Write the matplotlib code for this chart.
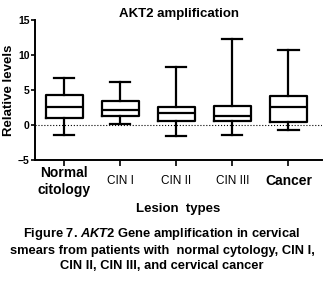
import numpy as np
import matplotlib
matplotlib.use("Agg")
import matplotlib.pyplot as plt

plt.rcParams['font.family'] = 'Liberation Sans'
plt.rcParams['mathtext.fontset'] = 'custom'
plt.rcParams['mathtext.it'] = 'Liberation Sans:italic:bold'
plt.rcParams['mathtext.rm'] = 'Liberation Sans:bold'

# data
groups = ["Normal\ncitology", "CIN I", "CIN II", "CIN III", "Cancer"]
whislo = [-1.5, 0.15, -1.6, -1.5, -0.7]
q1 = [1.0, 1.3, 0.5, 0.6, 0.4]
med = [2.6, 2.2, 1.7, 1.3, 2.6]
q3 = [4.3, 3.4, 2.6, 2.7, 4.1]
whishi = [6.7, 6.1, 8.3, 12.3, 10.7]

stats = []
for i in range(len(groups)):
    stats.append(dict(whislo=whislo[i], q1=q1[i], med=med[i], q3=q3[i],
                      whishi=whishi[i], fliers=[]))

fig = plt.figure(figsize=(3.24, 2.81), dpi=100)
ax = fig.add_axes([0.108, 0.431, 0.886, 0.498])

lw = 1.6
ax.bxp(stats, positions=range(len(groups)), widths=0.66, showfliers=False,
       boxprops=dict(color='black', linewidth=lw),
       whiskerprops=dict(color='black', linewidth=lw),
       capprops=dict(color='black', linewidth=lw),
       medianprops=dict(color='black', linewidth=lw),
       capwidths=0.36)
ax.axhline(0, color='black', linestyle=':', linewidth=0.8)

ax.set_xlim(-0.52, 4.6)
ax.set_ylim(-5, 15)
ax.set_yticks([-5, 0, 5, 10, 15])
ax.set_xticks(range(len(groups)))
ax.set_xticklabels(groups)
for i, lab in enumerate(ax.get_xticklabels()):
    lab.set_verticalalignment('center')
    if groups[i] in ("Normal\ncitology", "Cancer"):
        lab.set_fontweight('bold')
        lab.set_fontsize(10)
    else:
        lab.set_fontsize(8.5)
ax.tick_params(axis='y', labelsize=7.5, width=1.2, length=3, pad=1)
ax.tick_params(axis='x', width=1.2, length=4, pad=11.5)
for lab in ax.get_yticklabels():
    lab.set_fontweight('bold')
ax.spines['top'].set_visible(False)
ax.spines['right'].set_visible(False)
ax.spines['left'].set_linewidth(1.4)
ax.spines['bottom'].set_linewidth(1.4)

ax.set_title("AKT2 amplification", fontsize=9.5, fontweight='bold', pad=2)
ax.set_ylabel("Relative levels", fontsize=9.5, fontweight='bold', labelpad=2)
ax.set_xlabel("Lesion  types", fontsize=9.5, fontweight='bold', labelpad=4.5)

cap = ("Figure 7. $\\mathit{AKT2}$ Gene amplification in cervical\n"
       "smears from patients with  normal cytology, CIN I,\n"
       "CIN II, CIN III, and cervical cancer")
fig.text(0.5, 0.195, cap, ha='center', va='top', fontsize=9.3,
         fontweight='bold', linespacing=1.3)

plt.savefig("out.png", dpi=100)
